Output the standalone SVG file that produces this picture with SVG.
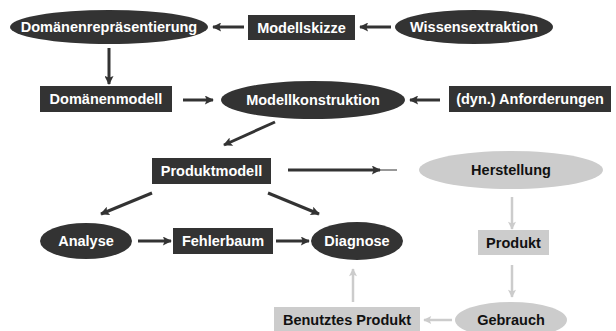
<svg xmlns="http://www.w3.org/2000/svg" width="616" height="331" viewBox="0 0 616 331">
<defs>
<style>
.dk{fill:#333333}
.lt{fill:#cccccc}
.tw{fill:#ffffff;font-family:"Liberation Sans",Arial,sans-serif;font-weight:bold;font-size:14.5px;text-anchor:middle;dominant-baseline:central}
.tb{fill:#111111;font-family:"Liberation Sans",Arial,sans-serif;font-weight:bold;font-size:14.5px;text-anchor:middle;dominant-baseline:central}
.ad{stroke:#333333;stroke-width:3;fill:none}
.al{stroke:#cccccc;stroke-width:2.5;fill:none}
</style>
<marker id="hd" viewBox="0 0 10 10" refX="9" refY="5" markerWidth="10" markerHeight="9" markerUnits="userSpaceOnUse" orient="auto">
<path d="M0,0 L10,5 L0,10 L2,5 z" fill="#333333"/>
</marker>
<marker id="hl" viewBox="0 0 10 10" refX="9" refY="5" markerWidth="9" markerHeight="8" markerUnits="userSpaceOnUse" orient="auto">
<path d="M0,0 L10,5 L0,10 L2,5 z" fill="#cccccc"/>
</marker>
</defs>
<rect width="616" height="331" fill="#ffffff"/>
<g id="connectors">
<line class="ad" x1="391" y1="27" x2="360" y2="27" marker-end="url(#hd)"/>
<line class="ad" x1="244" y1="27" x2="213" y2="27" marker-end="url(#hd)"/>
<line class="ad" x1="109" y1="48" x2="109" y2="84" marker-end="url(#hd)"/>
<line class="ad" x1="183" y1="100" x2="213" y2="100" marker-end="url(#hd)"/>
<line class="ad" x1="440" y1="100" x2="410" y2="100" stroke-width="2.5" marker-end="url(#hd)"/>
<line class="ad" x1="275" y1="122" x2="224" y2="145" marker-end="url(#hd)"/>
<line class="ad" x1="288" y1="170" x2="380" y2="170" marker-end="url(#hd)"/>
<line x1="378" y1="170" x2="397" y2="170" stroke="#333333" stroke-width="1"/>
<line class="ad" x1="152" y1="193" x2="101" y2="214" marker-end="url(#hd)"/>
<line class="ad" x1="268" y1="193" x2="319" y2="214" marker-end="url(#hd)"/>
<line class="ad" x1="138" y1="241" x2="171" y2="241" marker-end="url(#hd)"/>
<line class="ad" x1="276" y1="241" x2="309" y2="241" marker-end="url(#hd)"/>
<line class="al" x1="512" y1="197" x2="512" y2="229" marker-end="url(#hl)"/>
<line class="al" x1="512" y1="265" x2="512" y2="297" marker-end="url(#hl)"/>
<line class="al" x1="452" y1="320" x2="424" y2="320" marker-end="url(#hl)"/>
<line class="al" x1="353" y1="302" x2="353" y2="269" marker-end="url(#hl)"/>
</g>
<g id="domaenenrepraesentierung"><ellipse class="dk" cx="109" cy="27" rx="99" ry="17"/><text class="tw" x="109" y="27">Domänenrepräsentierung</text></g>
<g id="modellskizze"><rect class="dk" x="248" y="15" width="107" height="25"/><text class="tw" x="301.5" y="27.5">Modellskizze</text></g>
<g id="wissensextraktion"><ellipse class="dk" cx="474" cy="27" rx="79" ry="17"/><text class="tw" x="474" y="27">Wissensextraktion</text></g>
<g id="domaenenmodell"><rect class="dk" x="40" y="86" width="132" height="26"/><text class="tw" x="106" y="99">Domänenmodell</text></g>
<g id="modellkonstruktion"><ellipse class="dk" cx="313" cy="100" rx="92" ry="19"/><text class="tw" x="313" y="100">Modellkonstruktion</text></g>
<g id="anforderungen"><rect class="dk" x="449" y="86" width="162" height="26"/><text class="tw" x="530" y="99">(dyn.) Anforderungen</text></g>
<g id="produktmodell"><rect class="dk" x="152" y="158" width="119" height="26"/><text class="tw" x="211.5" y="171">Produktmodell</text></g>
<g id="herstellung"><ellipse class="lt" cx="511" cy="170" rx="92" ry="19"/><text class="tb" x="511" y="170">Herstellung</text></g>
<g id="analyse"><ellipse class="dk" cx="86" cy="241" rx="46" ry="18"/><text class="tw" x="86" y="241">Analyse</text></g>
<g id="fehlerbaum"><rect class="dk" x="173" y="228" width="100" height="26"/><text class="tw" x="223" y="241">Fehlerbaum</text></g>
<g id="diagnose"><ellipse class="dk" cx="357" cy="241" rx="46" ry="19"/><text class="tw" x="357" y="241">Diagnose</text></g>
<g id="produkt"><rect class="lt" x="478" y="230" width="71" height="25"/><text class="tb" x="513.5" y="242.5">Produkt</text></g>
<g id="gebrauch"><ellipse class="lt" cx="511" cy="320" rx="56" ry="18"/><text class="tb" x="511" y="320">Gebrauch</text></g>
<g id="benutztes-produkt"><rect class="lt" x="274" y="307" width="146" height="26"/><text class="tb" x="347" y="320">Benutztes Produkt</text></g>
</svg>
